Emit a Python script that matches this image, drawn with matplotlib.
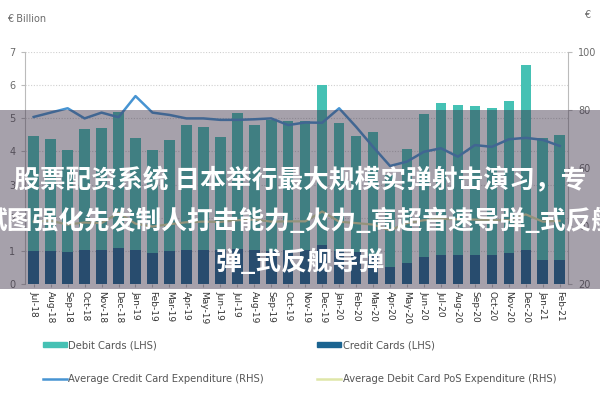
import matplotlib
matplotlib.use("Agg")
import matplotlib.pyplot as plt
import numpy as np
from matplotlib.patches import Rectangle, Patch
from matplotlib.lines import Line2D

months = ["Jul-18", "Aug-18", "Sep-18", "Oct-18", "Nov-18", "Dec-18", "Jan-19", "Feb-19",
          "Mar-19", "Apr-19", "May-19", "Jun-19", "Jul-19", "Aug-19", "Sep-19", "Oct-19",
          "Nov-19", "Dec-19", "Jan-20", "Feb-20", "Mar-20", "Apr-20", "May-20", "Jun-20",
          "Jul-20", "Aug-20", "Sep-20", "Oct-20", "Nov-20", "Dec-20", "Jan-21", "Feb-21"]

# EUR billion, stacked: credit at the bottom, debit on top
credit_cards = [1.00, 1.00, 0.97, 1.02, 1.04, 1.10, 1.03, 0.95, 1.00, 1.03, 1.03, 1.02,
                1.05, 1.02, 1.00, 1.02, 1.03, 1.17, 1.00, 0.97, 0.85, 0.52, 0.62, 0.80,
                0.87, 0.87, 0.87, 0.87, 0.93, 1.03, 0.72, 0.72]
debit_cards = [3.47, 3.38, 3.08, 3.66, 3.67, 4.10, 3.38, 3.10, 3.35, 3.77, 3.71, 3.42,
               4.12, 3.78, 3.95, 3.90, 3.89, 4.83, 3.86, 3.50, 3.73, 2.78, 3.45, 4.34,
               4.59, 4.54, 4.51, 4.44, 4.60, 5.57, 3.68, 3.78]

# EUR, right hand side
avg_credit_exp = [77.6, 79.1, 80.6, 77.1, 79.1, 77.5, 84.8, 79.1, 78.3, 77.1, 77.1, 76.6,
                  76.6, 76.8, 77.1, 74.8, 75.7, 75.6, 80.6, 74.2, 67.3, 60.7, 62.2, 65.6,
                  66.8, 63.9, 67.9, 67.3, 69.9, 70.4, 69.7, 67.6]
avg_debit_pos_exp = [41.5, 41.8, 40.5, 41.2, 41.0, 44.5, 40.8, 39.8, 40.6, 41.3, 41.5, 41.4,
                     42.0, 42.2, 41.5, 41.6, 41.6, 45.0, 41.5, 41.0, 40.5, 38.5, 41.0, 42.0,
                     42.5, 42.3, 42.2, 42.0, 42.0, 44.0, 41.5, 41.8]

teal = "#45c1b4"
dark = "#1b6491"
blue = "#4794d2"
pale = "#dfe6a8"
grey = "#6b6b6b"

narrow = ["Liberation Sans Narrow", "DejaVu Sans"]

fig = plt.figure(figsize=(6, 4), dpi=100)
ax = fig.add_axes([0.042, 0.29, 0.905, 0.58])
x = np.arange(len(months))

ax.bar(x, credit_cards, width=0.62, color=dark, zorder=2)
ax.bar(x, debit_cards, width=0.62, bottom=credit_cards, color=teal, zorder=2)
ax.set_ylim(0, 7)
ax.set_xlim(-0.5, len(months) - 0.5)
ax.set_yticks(range(8))
ax.yaxis.grid(True, linestyle=(0, (1, 1.5)), color="#d0d0d0", linewidth=0.8, zorder=0)
ax.set_axisbelow(True)
ax.set_xticks(x)
ax.set_xticklabels(months, rotation=270, fontsize=6.5, family=narrow, color="#333333")
ax.tick_params(axis="x", length=2, pad=3, color="#bbbbbb")
ax.tick_params(axis="y", length=3, labelsize=7, labelcolor=grey, color="#bbbbbb", pad=4)
for s in ["top", "right", "bottom"]:
    ax.spines[s].set_visible(False)
ax.spines["left"].set_color("#bbbbbb")

ax2 = ax.twinx()
ax2.plot(x, avg_credit_exp, color=blue, linewidth=1.8, zorder=3)
ax2.plot(x, avg_debit_pos_exp, color=pale, linewidth=1.6, zorder=3)
ax2.set_ylim(20, 100)
ax2.set_yticks([20, 40, 60, 80, 100])
ax2.tick_params(axis="y", length=3, labelsize=7, labelcolor=grey, color="#bbbbbb", pad=4)
for s in ["top", "left", "bottom"]:
    ax2.spines[s].set_visible(False)
ax2.spines["right"].set_color("#bbbbbb")

fig.text(0.012, 0.945, "€ Billion", fontsize=7, color=grey, family=narrow)
fig.text(0.978, 0.955, "€", fontsize=7, color=grey, family=narrow, ha="center")

# legend is filled column by column
handles = [Patch(color=teal),
           Line2D([], [], color=blue, linewidth=1.8),
           Patch(color=dark),
           Line2D([], [], color=pale, linewidth=1.8)]
labels = ["Debit Cards (LHS)", "Average Credit Card Expenditure (RHS)",
          "Credit Cards (LHS)", "Average Debit Card PoS Expenditure (RHS)"]
leg = fig.legend(handles, labels, ncol=2, loc="upper left", bbox_to_anchor=(0.065, 0.16),
                 frameon=False, columnspacing=5.3, handlelength=2.4, handleheight=0.5,
                 handletextpad=0.15, labelspacing=2.4, borderaxespad=0,
                 prop={"family": narrow, "size": 7.2})
for t in leg.get_texts():
    t.set_color("#555555")

# grey banner with the caption on top of the chart
fig.patches.append(Rectangle((0, 0.2775), 1, 0.4475, transform=fig.transFigure,
                             facecolor="#3a2f45", alpha=0.45, edgecolor="none", zorder=10))
cjk = ["Noto Sans CJK SC", "DejaVu Sans"]
caption = ["股票配资系统 日本举行最大规模实弹射击演习，专",
           "试图强化先发制人打击能力_火力_高超音速导弹_式反舰",
           "弹_式反舰导弹"]
for i, line in enumerate(caption):
    fig.text(0.5, 0.548 - i * 0.1025, line, ha="center", va="center", color="white",
             fontsize=18.5, fontweight="bold", family=cjk, zorder=11)

fig.savefig("out.png", dpi=100)
